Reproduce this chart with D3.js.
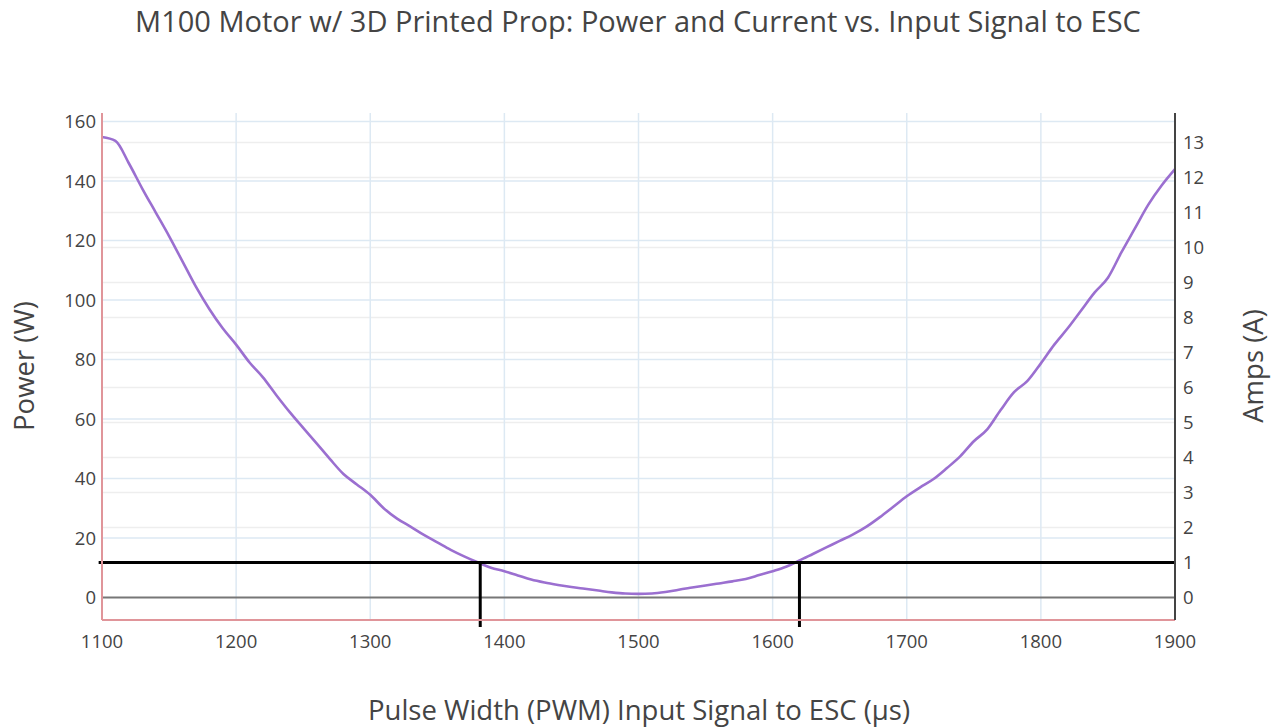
<!DOCTYPE html>
<html><head><meta charset="utf-8">
<script src="https://cdn.jsdelivr.net/npm/d3@7"></script>
<style>body{margin:0;background:#fff}svg{display:block;font-family:"Open Sans",sans-serif}</style>
</head><body><svg id="c" width="1274" height="727"></svg>
<script>
const pwm = [1100,1110,1120,1130,1140,1150,1160,1170,1180,1190,1200,1210,1220,1230,1240,1250,1260,1270,1280,1290,1300,1310,1320,1330,1340,1350,1360,1370,1380,1390,1400,1410,1420,1430,1440,1450,1460,1470,1480,1490,1500,1510,1520,1530,1540,1550,1560,1570,1580,1590,1600,1610,1620,1630,1640,1650,1660,1670,1680,1690,1700,1710,1720,1730,1740,1750,1760,1770,1780,1790,1800,1810,1820,1830,1840,1850,1860,1870,1880,1890,1900];
const power = [154.8,153.5,146,137.5,129.5,121.5,113,104.5,97,90.5,85,79,74,68,62.3,57,51.8,46.5,41.5,38,34.5,30,26.5,23.8,21,18.5,16,13.8,11.8,10,8.8,7.4,6,5,4.2,3.5,2.9,2.3,1.7,1.3,1.2,1.3,1.8,2.6,3.3,4,4.7,5.4,6.2,7.5,8.8,10.3,12.4,14.6,16.8,19,21.2,23.8,27,30.5,34,37,39.8,43.5,47.5,52.5,56.5,63,69,72.8,78.7,85,90.5,96.5,102.5,107.5,116,124,132,138.5,144];
const xTicks = [1100,1200,1300,1400,1500,1600,1700,1800,1900];
const powerTicks = [0,20,40,60,80,100,120,140,160];
const ampTicks = [0,1,2,3,4,5,6,7,8,9,10,11,12,13];
const thresholdAmps = 1;
const crossPwm = [1382, 1620];

const L=102, R=1175, T=113, B=620;
const svg = d3.select("#c");
const x = d3.scaleLinear().domain([1100,1900]).range([L,R]);
const yP = d3.scaleLinear().domain([-7.6,162.9]).range([B,T]);
const yA = d3.scaleLinear().domain([-0.64,13.84]).range([B,T]);

// amp grid (gray)
svg.append("g").selectAll("line").data(ampTicks.filter(d=>d!==0)).join("line")
  .attr("x1",L).attr("x2",R).attr("y1",d=>yA(d)).attr("y2",d=>yA(d))
  .attr("stroke","#eeeeee").attr("stroke-width",1.5);
// power grid (blue)
svg.append("g").selectAll("line").data(powerTicks.filter(d=>d!==0)).join("line")
  .attr("x1",L).attr("x2",R).attr("y1",d=>yP(d)).attr("y2",d=>yP(d))
  .attr("stroke","#dde9f3").attr("stroke-width",1.5);
// x grid
svg.append("g").selectAll("line").data(xTicks.slice(1,-1)).join("line")
  .attr("x1",d=>x(d)).attr("x2",d=>x(d)).attr("y1",T).attr("y2",B)
  .attr("stroke","#dde9f3").attr("stroke-width",1.5);
// zero line
svg.append("line").attr("x1",L).attr("x2",R).attr("y1",yP(0)).attr("y2",yP(0))
  .attr("stroke","#777").attr("stroke-width",2);

// curve
svg.append("path").datum(pwm.map((p,i)=>[p,power[i]]))
  .attr("fill","none").attr("stroke","#9b6fd0").attr("stroke-width",2.6)
  .attr("d", d3.line().x(d=>x(d[0])).y(d=>yP(d[1])).curve(d3.curveMonotoneX));

// threshold lines
svg.append("line").attr("x1",x(1097.5)).attr("x2",R).attr("y1",yA(thresholdAmps)).attr("y2",yA(thresholdAmps))
  .attr("stroke","#000").attr("stroke-width",3);
svg.append("g").selectAll("line").data(crossPwm).join("line")
  .attr("x1",d=>x(d)).attr("x2",d=>x(d)).attr("y1",yA(thresholdAmps)).attr("y2",yA(-0.84))
  .attr("stroke","#000").attr("stroke-width",3);

// axis lines
svg.append("line").attr("x1",L).attr("x2",R).attr("y1",B).attr("y2",B).attr("stroke","#e0959a").attr("stroke-width",2);
svg.append("line").attr("x1",L).attr("x2",L).attr("y1",T).attr("y2",B).attr("stroke","#e0959a").attr("stroke-width",2);
svg.append("line").attr("x1",R).attr("x2",R).attr("y1",T).attr("y2",B).attr("stroke","#444").attr("stroke-width",2);

// tick labels
svg.append("g").selectAll("text").data(powerTicks).join("text")
  .attr("x",L-6).attr("y",d=>yP(d)).attr("dy","0.36em").attr("text-anchor","end")
  .attr("fill","#444").attr("font-size","18.5px").text(d=>d);
svg.append("g").selectAll("text").data(ampTicks).join("text")
  .attr("x",R+8).attr("y",d=>yA(d)).attr("dy","0.36em").attr("text-anchor","start")
  .attr("fill","#444").attr("font-size","18.5px").text(d=>d);
svg.append("g").selectAll("text").data(xTicks).join("text")
  .attr("x",d=>x(d)).attr("y",648).attr("text-anchor","middle")
  .attr("fill","#444").attr("font-size","18.5px").text(d=>d);

// titles
svg.append("text").attr("x",638).attr("y",32).attr("text-anchor","middle")
  .attr("fill","#444").attr("font-size","29px").text("M100 Motor w/ 3D Printed Prop: Power and Current vs. Input Signal to ESC");
svg.append("text").attr("x",639).attr("y",720).attr("text-anchor","middle")
  .attr("fill","#444").attr("font-size","27.5px").text("Pulse Width (PWM) Input Signal to ESC (µs)");
svg.append("text").attr("transform","translate(34,366) rotate(-90)").attr("text-anchor","middle")
  .attr("fill","#444").attr("font-size","27.5px").text("Power (W)");
svg.append("text").attr("transform","translate(1263,366) rotate(-90)").attr("text-anchor","middle")
  .attr("fill","#444").attr("font-size","27.5px").text("Amps (A)");
</script></body></html>
